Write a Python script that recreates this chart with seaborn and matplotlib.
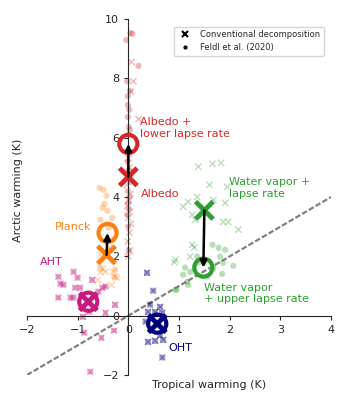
import pandas as pd
import seaborn as sns
import matplotlib.pyplot as plt
from matplotlib.lines import Line2D

sns.set_style("ticks")
plt.rcParams['font.family'] = ['DejaVu Sans']

# Individual model points (tropical warming, arctic warming)
# Albedo
alb_conv_x = [0.06, 0.1, 0.05, 0.2, 0.0, 0.02, -0.03, 0.04, 0.01, -0.02, 0.03, 0.0, 0.05, 0.02, -0.01, 0.03, 0.0, 0.04]
alb_conv_y = [8.55, 7.9, 7.55, 6.63, 5.3, 5.0, 4.4, 4.1, 3.9, 3.7, 3.5, 3.3, 3.1, 2.8, 2.5, 2.2, 2.0, 4.8]
alb_feldl_x = [0.04, 0.08, -0.04, 0.2, -0.02, 0.03, -0.01, -0.01, 0.02, -0.01, 0.01, 0.03, 0.0, 0.02, -0.02, 0.01, 0.03, -0.01, 0.02, 0.0, 0.01, -0.02, 0.0, 0.01]
alb_feldl_y = [9.53, 9.5, 9.29, 8.42, 7.9, 7.58, 7.4, 7.1, 6.94, 6.7, 6.36, 6.26, 6.1, 5.5, 5.2, 4.9, 4.5, 4.2, 4.0, 3.8, 3.6, 3.4, 3.0, 2.2]

# Planck
pl_conv_x = [-0.55, -0.45, -0.3, -0.55, -0.22, -0.5, -0.26, -0.38, -0.33, -0.6]
pl_conv_y = [2.05, 1.48, 1.48, 1.45, 1.28, 1.58, 1.31, 2.3, 1.04, 1.2]
pl_feldl_x = [-0.57, -0.49, -0.43, -0.47, -0.51, -0.41, -0.55, -0.32, -0.39, -0.3, -0.26, -0.28, -0.55]
pl_feldl_y = [4.31, 4.24, 4.04, 3.77, 3.64, 3.54, 3.23, 3.3, 2.96, 2.56, 1.55, 1.31, 1.62]

# Atmospheric heat transport (both decompositions coincide)
aht_x = [-1.38, -1.08, -1.0, -1.34, -1.28, -1.05, -0.95, -0.45, -0.51, -0.59, -1.38, -1.14, -1.08, -0.65, -0.87, -0.75, -0.77]
aht_y = [1.31, 1.48, 1.28, 1.08, 1.04, 0.94, 0.94, 0.98, 0.94, 0.81, 0.61, 0.61, 0.61, 0.64, -0.57, -1.89, 0.13]
aht_sq_x = [-0.71, -0.26, -0.45, -0.9, -0.28, -0.53]
aht_sq_y = [1.21, 0.37, 0.1, -0.03, -0.5, -0.74]

# Ocean heat transport
oht_x = [0.49, 0.43, 0.34, 0.67]
oht_y = [0.84, 0.37, -0.2, -1.41]
oht_sq_x = [0.37, 0.63, 0.39, 0.53, 0.67, 0.39, 0.53, 0.63, 0.69]
oht_sq_y = [1.45, 0.3, 0.13, 0.13, 0.1, -0.88, -0.84, -0.67, -0.81]

# Water vapor + lapse rate
wv_conv_x = [1.38, 1.66, 1.83, 1.6, 1.95, 1.18, 1.36, 1.08, 1.68, 1.91, 1.26, 1.32, 1.87, 1.97, 2.17, 1.26, 1.3, 0.93, 1.22, 0.91]
wv_conv_y = [5.02, 5.12, 5.15, 4.41, 4.34, 3.84, 4.0, 3.67, 3.9, 3.8, 3.4, 3.23, 3.16, 3.16, 2.9, 2.39, 2.3, 1.89, 1.99, 1.8]
wv_feldl_x = [1.66, 1.78, 1.91, 1.81, 1.87, 2.07, 1.12, 1.22, 1.08, 1.36, 1.38, 1.5, 1.85, 1.16, 1.18, 0.93, 1.68, 1.56, 0.95]
wv_feldl_y = [2.39, 2.29, 2.22, 1.99, 1.78, 1.68, 1.62, 1.48, 1.38, 1.99, 1.78, 1.78, 1.41, 1.14, 1.04, 0.88, 1.62, 1.31, 0.87]

# Multi-model means
feedbacks = ['Albedo', 'Planck', 'AHT', 'OHT', 'WV']
mean_conv_x = [0.0, -0.43, -0.79, 0.57, 1.5]
mean_conv_y = [4.68, 2.05, 0.47, -0.27, 3.55]
mean_feldl_x = [0.0, -0.41, -0.79, 0.57, 1.48]
mean_feldl_y = [5.79, 2.79, 0.47, -0.27, 1.62]

colors = {'Albedo': '#d62728', 'Planck': '#ff7f0e', 'AHT': '#c51b7d',
          'OHT': '#00007f', 'WV': '#2ca02c'}


def frame(xs, ys, name):
    return pd.DataFrame({'tropical': xs, 'arctic': ys, 'feedback': name})


conv = pd.concat([frame(alb_conv_x, alb_conv_y, 'Albedo'),
                  frame(pl_conv_x, pl_conv_y, 'Planck'),
                  frame(aht_x + aht_sq_x, aht_y + aht_sq_y, 'AHT'),
                  frame(oht_x + oht_sq_x, oht_y + oht_sq_y, 'OHT'),
                  frame(wv_conv_x, wv_conv_y, 'WV')])
feldl = pd.concat([frame(alb_feldl_x, alb_feldl_y, 'Albedo'),
                   frame(pl_feldl_x, pl_feldl_y, 'Planck'),
                   frame(aht_x, aht_y, 'AHT'),
                   frame(oht_x, oht_y, 'OHT'),
                   frame(wv_feldl_x, wv_feldl_y, 'WV')])
squares = pd.concat([frame(aht_sq_x, aht_sq_y, 'AHT'),
                     frame(oht_sq_x, oht_sq_y, 'OHT')])
means_c = pd.DataFrame({'tropical': mean_conv_x, 'arctic': mean_conv_y, 'feedback': feedbacks})
means_f = pd.DataFrame({'tropical': mean_feldl_x, 'arctic': mean_feldl_y, 'feedback': feedbacks})

fig = plt.figure(figsize=(3.5, 4), dpi=100)
ax = fig.add_axes([0.077, 0.0625, 0.869, 0.89])

ax.axline((0, 0), slope=1, color='gray', ls=(0, (2.5, 1)), lw=1.6, zorder=1)

sns.scatterplot(data=feldl, x='tropical', y='arctic', hue='feedback', palette=colors,
                marker='o', s=20, alpha=0.33, edgecolor='none', legend=False, ax=ax)
sns.scatterplot(data=squares, x='tropical', y='arctic', hue='feedback', palette=colors,
                marker='s', s=18, alpha=0.33, edgecolor='none', legend=False, ax=ax)
sns.scatterplot(data=conv, x='tropical', y='arctic', hue='feedback', palette=colors,
                marker='x', s=20, alpha=0.33, linewidth=1, legend=False, ax=ax)

# mean markers
sns.scatterplot(data=means_c, x='tropical', y='arctic', hue='feedback', palette=colors,
                marker='x', s=160, linewidth=3.5, legend=False, ax=ax, zorder=5)
for _, r in means_f.iterrows():
    ax.scatter(r['tropical'], r['arctic'], s=170, facecolor='none',
               edgecolor=colors[r['feedback']], linewidth=3, zorder=5)

# arrows from conventional to Feldl
for i in [0, 1, 4]:
    ax.annotate('', xy=(mean_feldl_x[i], mean_feldl_y[i]),
                xytext=(mean_conv_x[i], mean_conv_y[i]),
                arrowprops=dict(arrowstyle='-|>', color='k', lw=1.8,
                                mutation_scale=10, shrinkA=0, shrinkB=0),
                zorder=6)

fs = 8
ax.text(0.24, 6.33, 'Albedo +\nlower lapse rate', color=colors['Albedo'], fontsize=fs, va='center')
ax.text(0.24, 4.1, 'Albedo', color=colors['Albedo'], fontsize=fs, va='center')
ax.text(-0.72, 3.0, 'Planck', color=colors['Planck'], fontsize=fs, va='center', ha='right')
ax.text(-1.74, 1.82, 'AHT', color=colors['AHT'], fontsize=fs, va='center')
ax.text(0.79, -1.08, 'OHT', color=colors['OHT'], fontsize=fs, va='center')
ax.text(1.99, 4.3, 'Water vapor +\nlapse rate', color=colors['WV'], fontsize=fs, va='center')
ax.text(1.5, 0.75, 'Water vapor\n+ upper lapse rate', color=colors['WV'], fontsize=fs, va='center')

ax.set_xlim(-2, 4)
ax.set_ylim(-2, 10)
ax.set_xticks([-2, -1, 0, 1, 2, 3, 4])
ax.set_yticks([-2, 0, 2, 4, 6, 8, 10])
ax.tick_params(labelsize=8, length=3)
ax.spines['left'].set_position(('data', 0))
ax.spines['bottom'].set_position(('data', 0))
ax.spines['top'].set_visible(False)
ax.spines['right'].set_visible(False)

ax.set_xlabel('Tropical warming (K)', fontsize=8)
ax.set_ylabel('Arctic warming (K)', fontsize=8)
ax.xaxis.set_label_coords(0.6, -0.015)
ax.yaxis.set_label_coords(-0.012, 0.52)

handles = [Line2D([], [], color='k', marker='x', ls='none', markersize=4, mew=1.5),
           Line2D([], [], color='k', marker='.', ls='none', markersize=4)]
ax.legend(handles, ['Conventional decomposition', 'Feldl et al. (2020)'],
          loc='upper right', fontsize=6, frameon=True, bbox_to_anchor=(0.99, 0.99))

plt.savefig('out.png', dpi=100)
